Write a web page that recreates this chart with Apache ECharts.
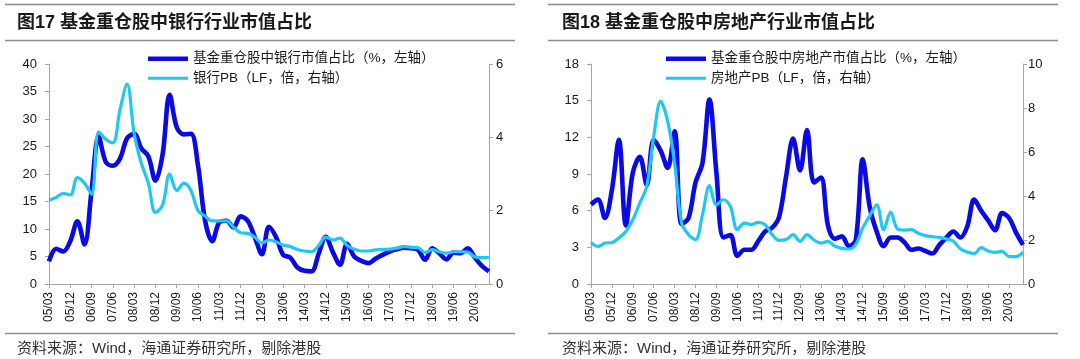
<!DOCTYPE html>
<html><head><meta charset="utf-8">
<script src="https://cdn.jsdelivr.net/npm/echarts@6/dist/echarts.min.js"></script>
<style>html,body{margin:0;padding:0;background:#fff;}#c{width:1080px;height:359px;}</style>
</head><body><div id="c"></div>
<script>
// ---- data ----
const quarters = [
 '05/03','05/06','05/09','05/12','06/03','06/06','06/09','06/12','07/03','07/06','07/09','07/12',
 '08/03','08/06','08/09','08/12','09/03','09/06','09/09','09/12','10/03','10/06','10/09','10/12',
 '11/03','11/06','11/09','11/12','12/03','12/06','12/09','12/12','13/03','13/06','13/09','13/12',
 '14/03','14/06','14/09','14/12','15/03','15/06','15/09','15/12','16/03','16/06','16/09','16/12',
 '17/03','17/06','17/09','17/12','18/03','18/06','18/09','18/12','19/03','19/06','19/09','19/12',
 '20/03','20/06','20/09'];
const bankShare = [4.1,6.4,5.9,7.8,11.4,7.2,17,26.8,22.2,21.5,22.8,26.5,27.3,24.7,23.2,18.8,23.5,34.4,28.5,27.2,
 27.3,21.5,11.5,7.8,11.2,11.5,10.3,12.3,11.5,8.5,5.4,10.4,8.5,5.3,4.8,3.0,2.4,2.3,5.5,8.6,
 5.8,3.5,7.3,5.0,4.2,3.8,4.6,5.3,5.9,6.3,6.6,6.5,6.2,4.4,6.5,5.6,4.5,5.7,5.6,6.5,4.8,3.3,2.3];
const bankPB = [2.29,2.36,2.47,2.43,2.9,2.75,2.45,4.15,3.95,3.85,4.75,5.45,4.1,3.3,2.75,1.95,2.15,3.0,2.55,2.75,
 2.55,2.0,1.85,1.72,1.72,1.72,1.55,1.4,1.38,1.28,1.12,1.2,1.15,1.06,1.02,0.94,0.9,0.88,1.05,1.28,
 1.2,1.25,1.05,0.95,0.9,0.9,0.93,0.94,0.95,0.98,1.02,1.0,0.99,0.86,0.94,0.88,0.84,0.88,0.88,0.87,0.74,0.72,0.73];
const estateShare = [6.5,6.9,5.4,7.7,11.8,4.8,9.1,10.4,8.1,11.8,10.9,9.5,12.5,4.9,5.4,8.3,9.9,15.1,9.1,3.8,
 4.0,2.3,2.8,2.8,3.5,4.3,4.6,5.5,8.8,11.9,9.3,12.6,8.3,8.7,4.8,3.7,3.9,3.1,3.6,10.2,
 6.3,4.3,3.1,3.8,3.8,3.4,2.8,2.9,2.7,2.5,3.2,3.8,4.3,3.8,4.7,6.9,6.0,5.2,4.4,5.8,5.4,4.2,3.2];
const estatePB = [1.89,1.7,1.86,1.89,2.09,2.39,2.92,3.68,4.44,6.7,8.3,7.4,5.5,2.77,2.24,2.02,3.15,4.47,3.6,3.83,
 3.53,2.47,2.77,2.7,2.8,2.7,2.24,1.98,2.02,2.24,1.94,2.24,2.0,1.86,1.94,1.72,1.62,1.59,1.8,2.55,
 3.1,3.6,2.47,3.27,2.5,2.45,2.47,2.3,2.2,2.15,2.12,2.05,1.94,1.6,1.45,1.38,1.65,1.5,1.44,1.48,1.25,1.24,1.45];
const names = ['基金重仓股中银行市值占比（%，左轴）','银行PB（LF，倍，右轴）',
 '基金重仓股中房地产市值占比（%，左轴）','房地产PB（LF，倍，右轴）'];
const titles = ['图17 基金重仓股中银行行业市值占比','图18 基金重仓股中房地产行业市值占比'];
const sourceText = '资料来源：Wind，海通证券研究所，剔除港股';

// ---- style ----
const FONT = '"Liberation Sans", Arial, "Noto Sans CJK SC", sans-serif';
const DARK = '#0A0AE6', LIGHT = '#1EC8F2', AXIS = '#A6A6A6', TXT = '#1a1a1a';
const ICON_THICK = 'path://M0 0H400V47H0Z', ICON_THIN = 'path://M0 0H400V32H0Z';

function xAxis(g){ return {type:'category', gridIndex:g, data:quarters, boundaryGap:false,
  axisLine:{lineStyle:{color:AXIS,width:1}},
  axisTick:{interval:2,length:4,lineStyle:{color:AXIS}},
  axisLabel:{interval:2,rotate:90,margin:8,fontSize:12,color:TXT,fontFamily:FONT}}; }
function yAxis(g,pos,max,interval,margin){ return {type:'value', gridIndex:g, position:pos, min:0, max, interval,
  splitLine:{show:false}, axisLine:{show:true,lineStyle:{color:AXIS,width:1}},
  axisTick:{show:true,length:4,lineStyle:{color:AXIS}},
  axisLabel:{margin,fontSize:13,color:TXT,fontFamily:FONT}}; }
function line(name,data,xi,yi,color,w){ return {type:'line', name, data, xAxisIndex:xi, yAxisIndex:yi,
  smooth:0.35, symbol:'none', lineStyle:{color,width:w}, itemStyle:{color}, z: w>4?2:3}; }
function legend(left,items){ return {left, top:52, orient:'vertical', padding:0, itemWidth:40, itemHeight:14, itemGap:6,
  symbolKeepAspect:true,
  data:[{name:items[0],icon:ICON_THICK,itemStyle:{color:DARK}},{name:items[1],icon:ICON_THIN,itemStyle:{color:LIGHT}}],
  textStyle:{fontSize:13.5,color:TXT,fontFamily:FONT}}; }

const ruleStyle = {stroke:'#8C8C8C', lineWidth:1.5};
const chart = echarts.init(document.getElementById('c'));
chart.setOption({
  animation:false,
  backgroundColor:'#fff',
  grid:[{left:49,top:64,width:440,height:220},{left:591,top:64,width:432,height:220}],
  xAxis:[xAxis(0),xAxis(1)],
  yAxis:[yAxis(0,'left',40,5,12),yAxis(0,'right',6,2,7),yAxis(1,'left',18,3,12),yAxis(1,'right',10,2,5)],
  legend:[legend(148,[names[0],names[1]]),legend(666,[names[2],names[3]])],
  series:[
    line(names[0],bankShare,0,0,DARK,4.6),
    line(names[1],bankPB,0,1,LIGHT,3.2),
    line(names[2],estateShare,1,2,DARK,4.6),
    line(names[3],estatePB,1,3,LIGHT,3.2)
  ],
  graphic:[
    {type:'line',shape:{x1:5,y1:4.5,x2:515,y2:4.5},style:ruleStyle},
    {type:'line',shape:{x1:5,y1:40.5,x2:515,y2:40.5},style:ruleStyle},
    {type:'line',shape:{x1:5,y1:333.5,x2:515,y2:333.5},style:ruleStyle},
    {type:'line',shape:{x1:548,y1:4.5,x2:1058,y2:4.5},style:ruleStyle},
    {type:'line',shape:{x1:548,y1:40.5,x2:1058,y2:40.5},style:ruleStyle},
    {type:'line',shape:{x1:548,y1:333.5,x2:1058,y2:333.5},style:ruleStyle},
    {type:'text',x:17,y:23.5,style:{text:titles[0],font:'bold 18px '+FONT,fill:TXT,textVerticalAlign:'middle'}},
    {type:'text',x:562,y:23.5,style:{text:titles[1],font:'bold 18px '+FONT,fill:TXT,textVerticalAlign:'middle'}},
    {type:'text',x:17,y:349,style:{text:sourceText,font:'15px '+FONT,fill:'#333',textVerticalAlign:'middle'}},
    {type:'text',x:562,y:349,style:{text:sourceText,font:'15px '+FONT,fill:'#333',textVerticalAlign:'middle'}}
  ]
});
</script></body></html>
